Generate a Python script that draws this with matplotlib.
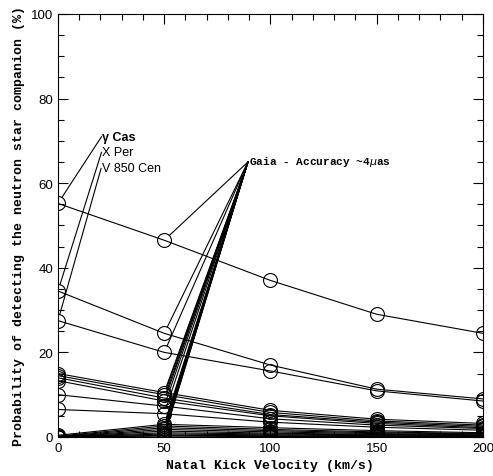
import matplotlib
matplotlib.use("Agg")
import matplotlib.pyplot as plt
from matplotlib.ticker import MultipleLocator

velocity = [0, 50, 100, 150, 200]

gamma_cas = [55.2, 46.5, 37.0, 29.0, 24.5]
x_per = [34.5, 24.5, 17.0, 11.3, 9.0]
v850_cen = [27.5, 20.0, 15.6, 10.9, 8.5]

other_series = [
    [15.0, 10.5, 6.3, 4.2, 3.2],
    [14.5, 10.0, 5.8, 3.8, 2.8],
    [14.0, 9.2, 5.3, 3.5, 2.5],
    [13.3, 8.5, 5.0, 3.2, 2.2],
    [10.0, 7.3, 4.3, 2.8, 2.0],
    [6.5, 5.5, 3.5, 2.3, 1.6],
    [0.4, 3.0, 2.2, 1.5, 1.0],
    [0.2, 2.6, 1.8, 1.2, 0.8],
    [0.1, 2.2, 1.5, 1.0, 0.7],
    [0.0, 1.8, 1.2, 0.8, 0.5],
    [0.0, 1.4, 0.9, 0.6, 0.4],
    [0.0, 1.0, 0.7, 0.5, 0.3],
    [0.0, 0.7, 0.5, 0.3, 0.2],
    [0.0, 0.4, 0.3, 0.2, 0.1],
    [0.0, 0.2, 0.1, 0.1, 0.05],
]

all_series = [gamma_cas, x_per, v850_cen] + other_series

star_labels = ["γ Cas", "X Per", "V 850 Cen"]
star_label_pos = [(20.5, 71.0), (20.5, 67.3), (20.3, 63.5)]
gaia_label = "Gaia - Accuracy ~4$\\mu$as"
gaia_pos = (89.4, 65.0)

xlabel = "Natal Kick Velocity (km/s)"
ylabel = "Probability of detecting the neutron star companion (%)"

fig = plt.figure(figsize=(4.93, 4.77), dpi=100)
ax = fig.add_axes([0.1176, 0.0818, 0.862, 0.887])

for s in all_series:
    ax.plot(velocity, s, color="black", lw=0.8, marker="o", ms=10,
            mfc="none", mec="black", mew=0.8)

# star labels
for i, (lab, pos) in enumerate(zip(star_labels, star_label_pos)):
    src = [gamma_cas, x_per, v850_cen][i]
    ax.annotate("", xy=(velocity[0], src[0]), xytext=pos,
                arrowprops=dict(arrowstyle="-", color="black", lw=0.8,
                                shrinkA=0, shrinkB=5))
    ax.text(pos[0] + 0.3, pos[1], lab, fontsize=9, family="Liberation Sans",
            fontweight="bold" if i == 0 else "normal", va="center", ha="left")

# Gaia annotation lines
for s in all_series:
    ax.annotate("", xy=(velocity[1], s[1]), xytext=gaia_pos,
                arrowprops=dict(arrowstyle="-", color="black", lw=0.8,
                                shrinkA=0, shrinkB=5))
ax.text(gaia_pos[0] + 0.3, gaia_pos[1] + 0.3, gaia_label, fontsize=8,
        family="Liberation Mono", fontweight="bold", va="center", ha="left")

ax.set_xlim(0, 200)
ax.set_ylim(0, 100)
ax.xaxis.set_major_locator(MultipleLocator(50))
ax.xaxis.set_minor_locator(MultipleLocator(10))
ax.yaxis.set_major_locator(MultipleLocator(20))
ax.yaxis.set_minor_locator(MultipleLocator(5))
ax.tick_params(which="both", direction="in", top=True, right=True,
               labelsize=9.5, width=0.8)
ax.tick_params(which="major", length=7)
ax.tick_params(which="minor", length=4)
for lab in ax.get_xticklabels() + ax.get_yticklabels():
    lab.set_family("Liberation Sans")
for sp in ax.spines.values():
    sp.set_linewidth(0.8)

ax.set_xlabel(xlabel, family="Liberation Mono", fontweight="bold", fontsize=9.5)
ax.set_ylabel(ylabel, family="Liberation Mono", fontweight="bold", fontsize=9.5)

fig.savefig("out.png", dpi=100)
